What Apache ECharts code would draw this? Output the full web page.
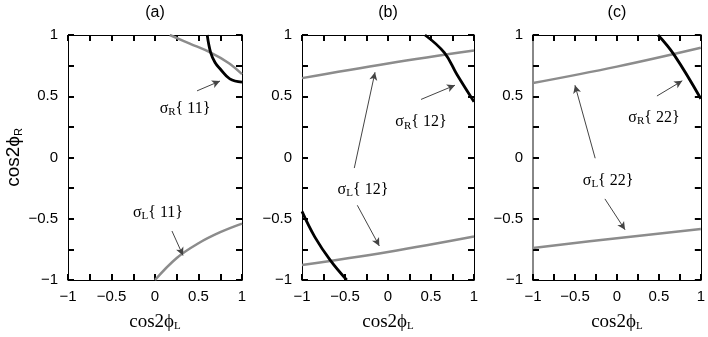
<!DOCTYPE html>
<html>
<head>
<meta charset="utf-8">
<script src="https://cdn.jsdelivr.net/npm/echarts@6/dist/echarts.min.js"></script>
<style>
  html, body { margin: 0; padding: 0; background: #fff; }
  #chart { width: 708px; height: 337px; }
</style>
</head>
<body>
<div id="chart"></div>
<script>
// panel titles
const panelTitles = ['(a)', '(b)', '(c)'];

// curves, [cos2phiL, cos2phiR]
const a_gray_top = [[0.17, 1], [0.4, 0.93], [0.64, 0.856], [0.85, 0.77], [1, 0.68]];
const a_gray_bot = [[0, -1], [0.25, -0.82], [0.5, -0.70], [0.75, -0.61], [1, -0.54]];
const a_black = [[0.60, 1], [0.64, 0.856], [0.69, 0.776], [0.75, 0.722], [0.86, 0.642], [1, 0.616]];

const b_gray_top = [[-1, 0.648], [0, 0.768], [1, 0.874]];
const b_gray_bot = [[-1, -0.877], [0, -0.771], [1, -0.645]];
const b_black_top = [[0.43, 1], [0.655, 0.856], [0.8, 0.68], [1, 0.456]];
const b_black_bot = [[-1, -0.44], [-0.85, -0.65], [-0.67, -0.84], [-0.48, -1]];

const c_gray_top = [[-1, 0.608], [0, 0.742], [1, 0.896]];
const c_gray_bot = [[-1, -0.739], [0, -0.659], [1, -0.584]];
const c_black = [[0.49, 1], [0.68, 0.84], [1, 0.48]];

// annotation texts: [x, y, text]
const a_texts = [[0.345, 0.40, 'σ{sub|R}{ 11}'], [0.034, -0.448, 'σ{sub|L}{ 11}']];
const b_texts = [[0.384, 0.288, 'σ{sub|R}{ 12}'], [-0.291, -0.264, 'σ{sub|L}{ 12}']];
const c_texts = [[0.442, 0.328, 'σ{sub|R}{ 22}'], [-0.105, -0.192, 'σ{sub|L}{ 22}']];

// arrows: [x1, y1, x2, y2]
const a_arrows = [[0.483, 0.544, 0.747, 0.624], [0.195, -0.6, 0.322, -0.8]];
const b_arrows = [[0.384, 0.474, 0.779, 0.590], [-0.392, -0.086, -0.151, 0.696], [-0.357, -0.39, -0.101, -0.722]];
const c_arrows = [[0.477, 0.502, 0.779, 0.626], [-0.259, -0.006, -0.5, 0.59], [-0.143, -0.338, 0.097, -0.59]];

const grays = [[a_gray_top, a_gray_bot], [b_gray_top, b_gray_bot], [c_gray_top, c_gray_bot]];
const blacks = [[a_black], [b_black_top, b_black_bot], [c_black]];
const texts = [a_texts, b_texts, c_texts];
const arrows = [a_arrows, b_arrows, c_arrows];

const grids = [
  {left: 68, top: 32, width: 174, height: 250},
  {left: 302, top: 32, width: 172, height: 250},
  {left: 533, top: 32, width: 172, height: 250}
];

const subRich = {
  sub: {fontSize: 11, lineHeight: 9, verticalAlign: 'bottom', fontFamily: 'Liberation Serif', color: '#000'}
};
function fmt(v) {
  return String(v).replace('-', '−');
}

function axisBase(show, extra) {
  return Object.assign({
    type: 'value', min: -1, max: 1, interval: 0.5,
    axisLine: {show: true, onZero: false, lineStyle: {color: '#000'}},
    // thin short ticks did not show up at the frame, these do
    axisTick: {show: true, inside: true, length: 6, lineStyle: {color: '#000', width: 2}},
    minorTick: {show: true, splitNumber: 2, length: 6, lineStyle: {color: '#000', width: 2}},
    splitLine: {show: false},
    axisLabel: {
      show: show, formatter: fmt, color: '#000',
      fontFamily: 'Liberation Sans', fontSize: 15, margin: 9
    }
  }, extra);
}

const xAxes = [], yAxes = [], series = [];
grids.forEach((g, i) => {
  xAxes.push(axisBase(true, {
    gridIndex: i, position: 'bottom',
    name: 'cos2ϕ{sub|L}', nameLocation: 'middle', nameGap: 32,
    nameTextStyle: {fontFamily: 'Liberation Serif', fontSize: 19, color: '#000', lineHeight: 20, rich: subRich}
  }));
  xAxes.push(axisBase(false, {
    gridIndex: i, position: 'top',
    name: panelTitles[i], nameLocation: 'middle', nameGap: 14,
    nameTextStyle: {fontFamily: 'Liberation Sans', fontSize: 16, color: '#000'}
  }));
  const yl = axisBase(true, {gridIndex: i, position: 'left'});
  yl.axisLabel.margin = 10;
  if (i === 0) {
    Object.assign(yl, {
      name: 'cos2ϕ{sub|R}', nameLocation: 'middle', nameGap: 44, nameRotate: 90,
      nameTextStyle: {fontFamily: 'Liberation Sans', fontSize: 19, color: '#000', lineHeight: 20,
        rich: {sub: {fontSize: 11, lineHeight: 9, verticalAlign: 'bottom', fontFamily: 'Liberation Sans'}}}
    });
  }
  if (i === 2) yl.axisLine.lineStyle = {color: '#888', width: 2};
  yAxes.push(yl);
  yAxes.push(axisBase(false, {gridIndex: i, position: 'right'}));

  grays[i].forEach(d => series.push({
    type: 'line', xAxisIndex: 2 * i, yAxisIndex: 2 * i, data: d,
    smooth: 0.4, showSymbol: false, silent: true,
    lineStyle: {color: '#8c8c8c', width: 2.5}
  }));
  blacks[i].forEach(d => series.push({
    type: 'line', xAxisIndex: 2 * i, yAxisIndex: 2 * i, data: d,
    smooth: 0.4, showSymbol: false, silent: true,
    lineStyle: {color: '#000', width: 2.8}
  }));
  series.push({
    type: 'scatter', xAxisIndex: 2 * i, yAxisIndex: 2 * i,
    data: texts[i].map(t => [t[0], t[1], t[2]]),
    symbolSize: 0, silent: true,
    itemStyle: {opacity: 1, color: '#000'},
    label: {
      show: true, position: 'inside', color: '#000',
      fontFamily: 'Liberation Serif', fontSize: 16, lineHeight: 18,
      formatter: p => p.data[2], rich: subRich
    },
    markLine: {
      silent: true, symbol: ['none', 'arrow'], symbolSize: [6, 8],
      label: {show: false},
      lineStyle: {color: '#444', width: 1, type: 'solid', opacity: 1},
      data: arrows[i].map(a => [{coord: [a[0], a[1]]}, {coord: [a[2], a[3]]}])
    }
  });
});

const chart = echarts.init(document.getElementById('chart'), null, {renderer: 'canvas'});
chart.setOption({
  animation: false,
  backgroundColor: '#fff',
  grid: grids,
  xAxis: xAxes,
  yAxis: yAxes,
  series: series
});
</script>
</body>
</html>
